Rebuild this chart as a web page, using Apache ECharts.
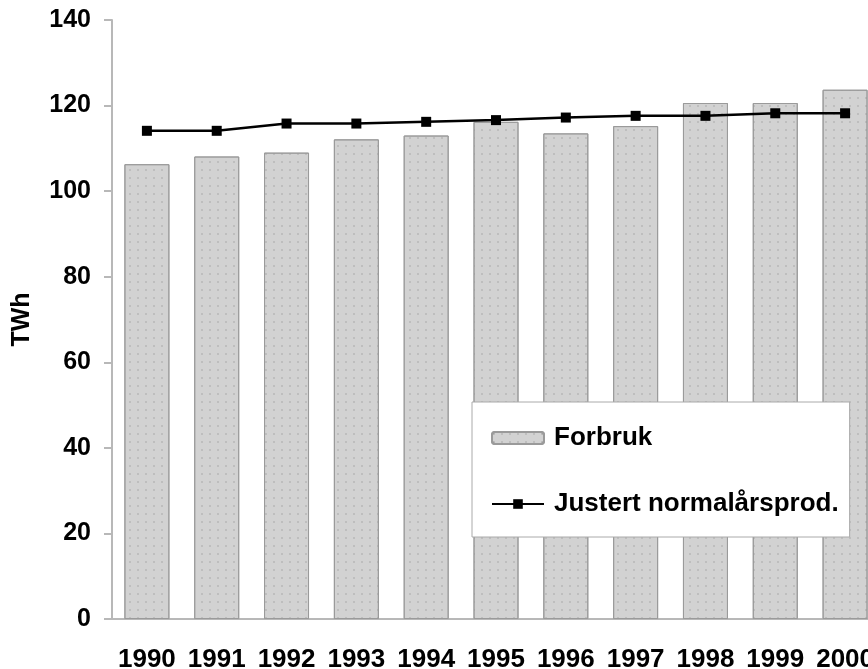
<!DOCTYPE html>
<html>
<head>
<meta charset="utf-8">
<script src="https://cdn.jsdelivr.net/npm/echarts@6/dist/echarts.min.js"></script>
<style>
  html, body { margin: 0; padding: 0; background: #fff; }
  #chart { width: 868px; height: 669px; }
</style>
</head>
<body>
<div id="chart"></div>
<script type="text/javascript">
// data
var years = ['1990', '1991', '1992', '1993', '1994', '1995', '1996', '1997', '1998', '1999', '2000'];
var forbruk = [106.3, 108.1, 109.0, 112.1, 113.0, 116.2, 113.5, 115.2, 120.6, 120.6, 123.7];
var normalaar = [114.1, 114.1, 115.8, 115.8, 116.2, 116.6, 117.2, 117.6, 117.6, 118.2, 118.2];

var FONT = '"Liberation Sans", Arial, sans-serif';

var chart = echarts.init(document.getElementById('chart'));

var option = {
    animation: false,
    backgroundColor: '#ffffff',
    textStyle: { fontFamily: FONT },
    grid: {
        left: 112,
        top: 20,
        width: 768,
        height: 599,
        outerBoundsMode: 'none',
        containLabel: false
    },
    legend: {
        orient: 'vertical',
        left: 472,
        top: 402,
        padding: [23, 11, 20, 19],
        itemGap: 40,
        itemWidth: 52,
        itemHeight: 12,
        backgroundColor: '#ffffff',
        borderColor: '#aaaaaa',
        borderWidth: 1,
        textStyle: { fontFamily: FONT, fontWeight: 'bold', fontSize: 26, color: '#000', padding: [0, 0, 0, 5] },
        data: ['Forbruk', 'Justert normalårsprod.']
    },
    xAxis: {
        type: 'category',
        data: years,
        axisLine: { lineStyle: { color: '#b8b8b8', width: 2 } },
        axisTick: { length: 8, lineStyle: { color: '#b8b8b8', width: 2 } },
        axisLabel: { interval: 0, fontFamily: FONT, fontWeight: 'bold', fontSize: 26, color: '#000', margin: 28 }
    },
    yAxis: {
        type: 'value',
        min: 0,
        max: 140,
        interval: 20,
        name: 'TWh',
        nameLocation: 'middle',
        nameGap: 77,
        nameTextStyle: { fontFamily: FONT, fontWeight: 'bold', fontSize: 25, color: '#000' },
        axisLine: { show: true, lineStyle: { color: '#b8b8b8', width: 2 } },
        axisTick: { show: true, length: 8, lineStyle: { color: '#b8b8b8', width: 2 } },
        axisLabel: { fontFamily: FONT, fontWeight: 'bold', fontSize: 25, color: '#000', margin: 21 },
        splitLine: { show: false }
    },
    series: [
        {
            name: 'Forbruk',
            type: 'bar',
            data: forbruk,
            barWidth: 45,
            itemStyle: {
                color: '#d2d2d2',
                borderColor: '#9a9a9a',
                borderWidth: 1,
                decal: {
                    symbol: 'circle',
                    symbolSize: 0.5,
                    dashArrayX: [[4, 4]],
                    dashArrayY: [4, 4],
                    color: 'rgba(120,120,120,0.3)'
                }
            }
        },
        {
            name: 'Justert normalårsprod.',
            type: 'line',
            data: normalaar,
            symbol: 'rect',
            symbolSize: 10,
            lineStyle: { color: '#000', width: 2.5 },
            itemStyle: { color: '#000' }
        }
    ]
};

chart.setOption(option);
</script>
</body>
</html>
